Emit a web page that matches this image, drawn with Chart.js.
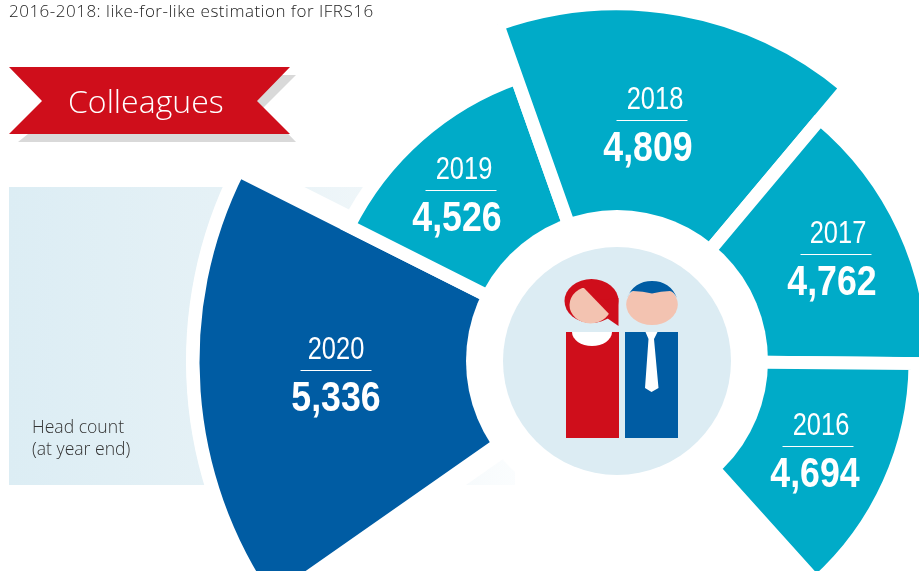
<!DOCTYPE html>
<html>
<head>
<meta charset="utf-8">
<title>Colleagues</title>
<script src="https://cdn.jsdelivr.net/npm/chart.js@4"></script>
<style>
    html, body { margin: 0; padding: 0; background: #fff; }
    #page { position: relative; width: 919px; height: 571px; overflow: hidden; }
    #page canvas { position: absolute; left: 0; top: -63px; }
    .txt { position: absolute; white-space: nowrap; font-family: "Open Sans", sans-serif; }
    #note { left: 9px; top: 0px; font-size: 17px; letter-spacing: 0.5px; line-height: 22px; color: #222; font-weight: 300; }
    #ribbon { left: 68px; top: 79px; font-size: 32px; line-height: 44px; color: #fff; font-weight: 300; }
    #unit { left: 32px; top: 415px; font-size: 17.6px; line-height: 22px; color: #333; font-weight: 300; }
</style>
</head>
<body>
<div id="page">
    <canvas id="polarChart" width="1234" height="848"></canvas>
    <div class="txt" id="note">2016-2018: like-for-like estimation for IFRS16</div>
    <div class="txt" id="ribbon">Colleagues</div>
    <div class="txt" id="unit">Head count<br>(at year end)</div>
</div>
<script>
const years = ["2020", "2019", "2018", "2017", "2016"];
const headCount = [5336, 4526, 4809, 4762, 4694];
// how far each slice reaches in the artwork, biggest slice = 100 (not proportional to head count)
const sliceReach = [100, 70.8, 84.2, 74.5, 70.3];

const sliceAngles = [61.7, 43.8, 59.5, 50.5, 47.5];
const sliceColors = ["#005ca3", "#00abc8", "#00abc8", "#00abc8", "#00abc8"];
const labelSpots = [
    { year: 336, value: 336, line: 336, y: 370 },
    { year: 464, value: 457, line: 461, y: 190 },
    { year: 655, value: 648, line: 652, y: 120 },
    { year: 838, value: 832, line: 836, y: 254 },
    { year: 821, value: 815, line: 818, y: 446 }
];
const PAGE_SHIFT = 63;

function poly(c, pts, color) {
    c.fillStyle = color;
    c.beginPath();
    pts.forEach((p, i) => i ? c.lineTo(p[0], p[1]) : c.moveTo(p[0], p[1]));
    c.closePath();
    c.fill();
}

function whiteSector(c, el, radius, edge) {
    c.beginPath();
    c.moveTo(el.x, el.y);
    c.arc(el.x, el.y, radius, el.startAngle, el.endAngle);
    c.closePath();
    c.fillStyle = "#fff";
    c.fill();
    if (edge) {
        c.strokeStyle = "#fff";
        c.lineWidth = edge;
        c.stroke();
    }
}

// no narrow face is installed, so squeeze the regular one
function narrowText(c, text, x, y, squeeze) {
    c.save();
    c.translate(x, y);
    c.scale(squeeze, 1);
    c.fillText(text, 0, 0);
    c.restore();
}

function drawPeople(c) {
    // woman
    poly(c, [[566, 332], [619, 332], [619, 438], [566, 438]], "#cf0e1b");
    c.fillStyle = "#fff";
    c.beginPath();
    c.ellipse(592, 332, 20, 14, 0, 0, Math.PI);
    c.fill();
    c.fillStyle = "#cf0e1b";
    c.beginPath();
    c.ellipse(591.5, 301, 27, 22, 0, 0, Math.PI * 2);
    c.fill();
    poly(c, [[600, 300], [618.5, 298], [618.5, 326], [604, 316]], "#cf0e1b");
    c.save();
    c.beginPath();
    c.moveTo(584, 288);
    c.lineTo(612, 317);
    c.lineTo(600, 330);
    c.lineTo(560, 330);
    c.lineTo(560, 288);
    c.closePath();
    c.clip();
    c.fillStyle = "#f3c3b1";
    c.beginPath();
    c.ellipse(590.5, 305, 21, 18.5, 0, 0, Math.PI * 2);
    c.fill();
    c.restore();

    // man
    poly(c, [[625, 332], [678, 332], [678, 438], [625, 438]], "#005ca3");
    poly(c, [[645.5, 332], [657.5, 332], [654, 339], [658.5, 388], [651.5, 392], [645, 388], [648.5, 339]], "#fff");
    c.fillStyle = "#f3c3b1";
    c.beginPath();
    c.ellipse(652, 304.5, 25.8, 20.5, 0, 0, Math.PI * 2);
    c.fill();
    c.fillStyle = "#005ca3";
    c.beginPath();
    c.moveTo(627, 298);
    c.quadraticCurveTo(634, 281, 652, 281);
    c.quadraticCurveTo(670, 281, 677, 298);
    c.quadraticCurveTo(674, 292, 670, 291);
    c.quadraticCurveTo(661, 291, 652, 293.5);
    c.quadraticCurveTo(643, 291, 633, 291);
    c.quadraticCurveTo(629, 292, 627, 298);
    c.fill();
}

const artwork = {
    id: "artwork",
    beforeDatasetsDraw(chart) {
        const c = chart.ctx;
        const arcs = chart.getDatasetMeta(0).data;
        c.save();

        // pale panel behind the big slice
        const fade = c.createLinearGradient(9, 0, 520, 0);
        fade.addColorStop(0, "#dcedf4");
        fade.addColorStop(0.4, "#e5f1f6");
        fade.addColorStop(0.7, "#eff6f9");
        fade.addColorStop(1, "#fbfdfe");
        c.fillStyle = fade;
        c.fillRect(9, 187 + PAGE_SHIFT, 506, 298);

        whiteSector(c, arcs[1], 308);
        whiteSector(c, arcs[0], 416, 30);

        // ribbon
        c.translate(0, PAGE_SHIFT);
        poly(c, [[28, 134], [18, 142], [296, 142], [263, 108], [296, 75], [200, 75], [200, 134]], "#d9d9d9");
        poly(c, [[9, 67], [290, 67], [257, 101], [290, 134], [9, 134], [42, 101]], "#cf0e1b");
        c.restore();
    },
    afterDatasetsDraw(chart) {
        const c = chart.ctx;
        const el = chart.getDatasetMeta(0).data[0];
        c.save();
        c.fillStyle = "#fff";
        c.beginPath();
        c.arc(el.x, el.y, 151, 0, Math.PI * 2);
        c.fill();
        c.fillStyle = "#dcecf3";
        c.beginPath();
        c.arc(el.x, el.y, 114, 0, Math.PI * 2);
        c.fill();

        c.translate(0, PAGE_SHIFT);
        drawPeople(c);

        // year / rule / head count on each slice
        c.textAlign = "center";
        c.textBaseline = "alphabetic";
        c.fillStyle = "#fff";
        c.strokeStyle = "#fff";
        c.lineWidth = 1;
        years.forEach((yr, i) => {
            const s = labelSpots[i];
            c.font = '31px "Liberation Sans", sans-serif';
            narrowText(c, yr, s.year, s.y - 11.5, 0.82);
            c.beginPath();
            c.moveTo(s.line - 35.5, s.y + 0.5);
            c.lineTo(s.line + 35.5, s.y + 0.5);
            c.stroke();
            c.font = 'bold 43px "Liberation Sans", sans-serif';
            narrowText(c, headCount[i].toLocaleString("en-US"), s.value, s.y + 41, 0.83);
        });
        c.restore();
    }
};

let polarChart = new Chart(document.getElementById("polarChart"), {
    type: "polarArea",
    data: {
        labels: years,
        datasets: [
            {
                label: "Head count (at year end)",
                data: sliceReach,
                angle: sliceAngles,
                backgroundColor: sliceColors,
                borderColor: "#fff",
                borderWidth: 13,
                borderJoinStyle: "miter"
            }
        ]
    },
    options: {
        responsive: false,
        animation: false,
        devicePixelRatio: 1,
        plugins: {
            legend: { display: false },
            tooltip: {
                callbacks: {
                    label: (item) => headCount[item.dataIndex].toLocaleString("en-US")
                }
            }
        },
        scales: {
            r: {
                display: false,
                min: 0,
                max: 100,
                startAngle: 235
            }
        }
    },
    plugins: [artwork]
});
</script>
</body>
</html>
